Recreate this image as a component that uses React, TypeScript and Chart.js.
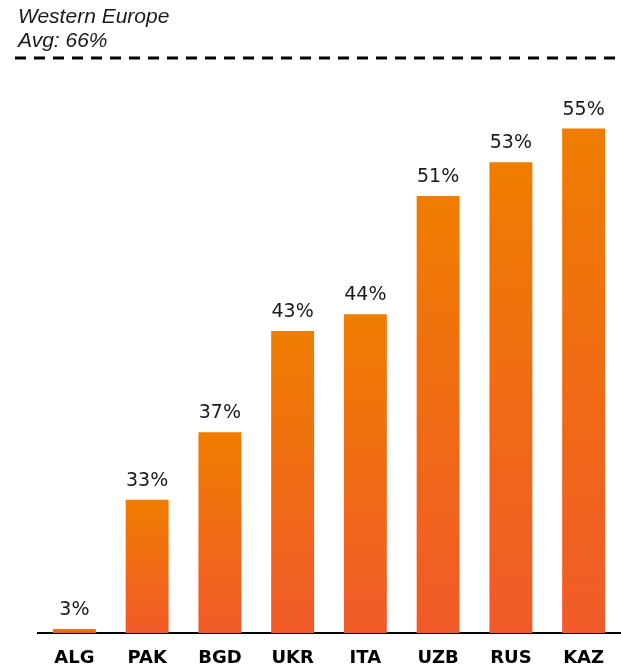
import React, { useEffect, useRef } from "react";
import { Chart, registerables } from "chart.js";

Chart.register(...registerables);

// ---- data ----
const categories: string[] = ["ALG", "PAK", "BGD", "UKR", "ITA", "UZB", "RUS", "KAZ"];
const shares: number[] = [3, 33, 37, 43, 44, 51, 53, 55];
const benchmarkName = "Western Europe";
const benchmarkAvg = 66;
const axisMin = 25.1; // value axis starts here (broken axis)
const axisMax = 58;

const TOP_COLOR = "#EF7D00";
const BOTTOM_COLOR = "#F15A29";

function gradientFor(ctx: any) {
  const chart = ctx.chart;
  const area = chart.chartArea;
  if (!area || ctx.parsed == null) return TOP_COLOR;
  const yScale = chart.scales.y;
  let top = yScale.getPixelForValue(ctx.parsed.y);
  if (!isFinite(top) || top > area.bottom - 4) top = area.bottom - 4;
  const g = chart.ctx.createLinearGradient(0, top, 0, area.bottom);
  g.addColorStop(0, TOP_COLOR);
  g.addColorStop(1, BOTTOM_COLOR);
  return g;
}

const headerPlugin = {
  id: "header",
  afterDraw(chart: any) {
    const c = chart.ctx;
    c.save();
    c.fillStyle = "#1a1a1a";
    c.font = "italic 21px 'Liberation Sans', Arial, sans-serif";
    c.textAlign = "left";
    c.textBaseline = "alphabetic";
    c.fillText(benchmarkName, 18, 23);
    c.fillText(`Avg: ${benchmarkAvg}%`, 18, 47);
    c.strokeStyle = "#000";
    c.lineWidth = 3;
    c.setLineDash([11, 8]);
    c.beginPath();
    c.moveTo(15, 58);
    c.lineTo(chart.width, 58);
    c.stroke();
    c.restore();
  },
};

const valueLabelPlugin = {
  id: "valueLabels",
  afterDatasetsDraw(chart: any) {
    const c = chart.ctx;
    c.save();
    c.fillStyle = "#1a1a1a";
    c.font = "19px 'DejaVu Sans', Verdana, sans-serif";
    c.textAlign = "center";
    c.textBaseline = "alphabetic";
    chart.data.datasets.forEach((ds: any, di: number) => {
      const meta = chart.getDatasetMeta(di);
      meta.data.forEach((el: any, i: number) => {
        const v = ds.data[i];
        if (v == null) return;
        c.fillText(`${v}%`, el.x, el.y - 14);
      });
    });
    c.restore();
  },
};

export default function App() {
  const ref = useRef<HTMLCanvasElement | null>(null);

  useEffect(() => {
    if (!ref.current) return;
    const inRange = shares.map((v) => (v >= axisMin ? v : null));
    const belowRange = shares.map((v) => (v < axisMin ? v : null));
    const common = {
      backgroundColor: gradientFor,
      borderWidth: 0,
      grouped: false,
      categoryPercentage: 1,
      barPercentage: 0.59,
    };
    const chart = new Chart(ref.current, {
      type: "bar",
      data: {
        labels: categories,
        datasets: [
          { ...common, data: inRange },
          // values below the broken axis shown as a stub bar
          { ...common, data: belowRange, base: 3, minBarLength: 4 },
        ],
      },
      options: {
        responsive: false,
        animation: false,
        devicePixelRatio: 1,
        layout: { padding: { top: 78, left: 38, right: 1, bottom: 1 } },
        plugins: {
          legend: { display: false },
          tooltip: { enabled: false },
          title: { display: false },
        },
        scales: {
          x: {
            type: "category",
            offset: true,
            z: 1,
            grid: { display: false, drawTicks: false },
            border: { display: true, color: "#000", width: 2 },
            ticks: {
              color: "#000",
              padding: 16,
              maxRotation: 0,
              autoSkip: false,
              font: { family: "'DejaVu Sans', Verdana, sans-serif", size: 18, weight: "bold", lineHeight: 1 },
            },
            afterFit(scale: any) {
              scale.height = 34;
            },
          },
          y: {
            display: false,
            min: axisMin,
            max: axisMax,
          },
        },
      },
      plugins: [headerPlugin, valueLabelPlugin],
    } as any);
    return () => chart.destroy();
  }, []);

  return (
    <div style={{ position: "fixed", left: 0, top: 0, width: 621, height: 668, background: "#fff" }}>
      <canvas ref={ref} width={621} height={668} style={{ display: "block" }} />
    </div>
  );
}
